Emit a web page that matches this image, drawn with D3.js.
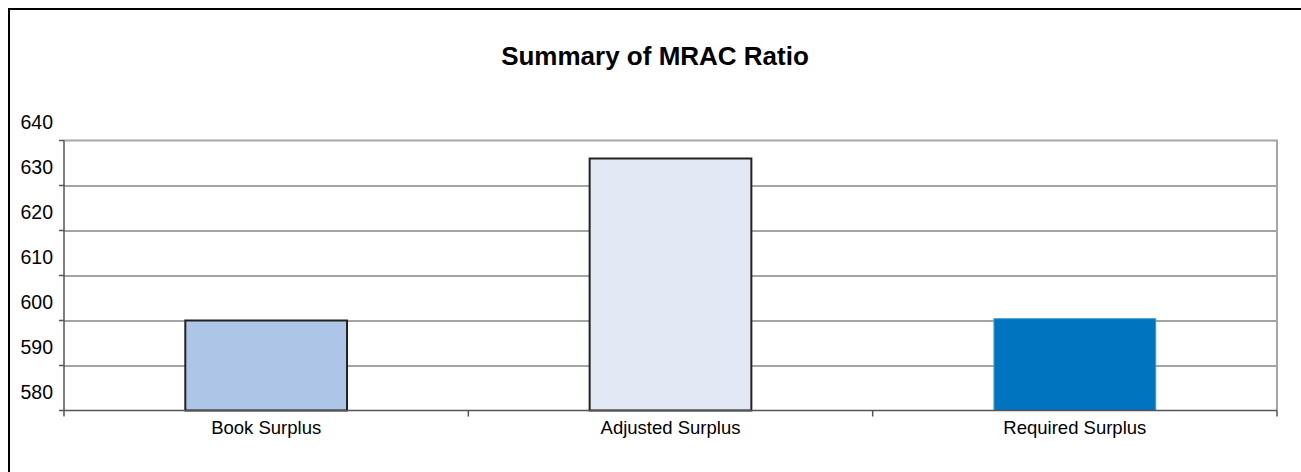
<!DOCTYPE html>
<html>
<head>
<meta charset="utf-8">
<script src="https://cdn.jsdelivr.net/npm/d3@7"></script>
<style>
  body { margin: 0; background: #fff; }
  text { font-family: "Liberation Sans", Arial, sans-serif; fill: #000; }
  .grid line { stroke: #868686; stroke-width: 1.5; }
  .grid path { display: none; }
</style>
</head>
<body>
<div id="chart"></div>
<script>
var categories = ["Book Surplus", "Adjusted Surplus", "Required Surplus"];
var values = [600, 636, 600.4];
var barColors = ["#adc5e6", "#e2e9f5", "#0074bf"];
var barStrokes = ["#222222", "#222222", "#3d9ad8"];
var yTicks = [580, 590, 600, 610, 620, 630, 640];
var title = "Summary of MRAC Ratio";

var W = 1301, H = 472;
var margin = {top: 140.5, right: 24, bottom: 61.5, left: 64},
    width = W - margin.left - margin.right,
    height = H - margin.top - margin.bottom;

var svg = d3.select("#chart").append("svg")
  .attr("width", W)
  .attr("height", H);

// outer frame (runs off the right/bottom edge like the original)
svg.append("rect")
  .attr("x", 9).attr("y", 9)
  .attr("width", W).attr("height", H)
  .attr("fill", "none")
  .attr("stroke", "#000")
  .attr("stroke-width", 2);

svg.append("text")
  .attr("x", 655)
  .attr("y", 65)
  .attr("text-anchor", "middle")
  .style("font-size", "26px")
  .style("font-weight", "bold")
  .text(title);

var g = svg.append("g")
  .attr("transform", "translate(" + margin.left + "," + margin.top + ")");

var x = d3.scaleBand().domain(categories).range([0, width]).paddingInner(0).paddingOuter(0);
var y = d3.scaleLinear().domain([580, 640]).range([height, 0]);

// gridlines
g.append("g")
  .attr("class", "grid")
  .call(d3.axisLeft(y).tickValues(yTicks.slice(1, -1)).tickSize(-width).tickFormat(""));

// plot area border (top + right)
g.append("path")
  .attr("d", "M0," + y(640) + "H" + width + "V" + height)
  .attr("fill", "none")
  .attr("stroke", "#a6a6a6")
  .attr("stroke-width", 2);

// bars
g.selectAll(".bar")
  .data(values)
  .enter().append("rect")
  .attr("class", "bar")
  .attr("x", function(d, i) { return x(categories[i]) + x.bandwidth() * 0.3; })
  .attr("width", x.bandwidth() * 0.4)
  .attr("y", function(d) { return y(d); })
  .attr("height", function(d) { return height - y(d); })
  .attr("fill", function(d, i) { return barColors[i]; })
  .attr("stroke", function(d, i) { return barStrokes[i]; })
  .attr("stroke-width", function(d, i) { return i < 2 ? 2 : 1; });

// y axis line + ticks
g.append("line")
  .attr("x1", 0).attr("x2", 0).attr("y1", 0).attr("y2", height)
  .attr("stroke", "#555").attr("stroke-width", 1.5);
g.selectAll(".ytick")
  .data(yTicks)
  .enter().append("line")
  .attr("class", "ytick")
  .attr("x1", -5).attr("x2", 0)
  .attr("y1", function(d) { return y(d); })
  .attr("y2", function(d) { return y(d); })
  .attr("stroke", "#555").attr("stroke-width", 1.5);

// y labels sit above their gridlines, as in the original
g.selectAll(".ylabel")
  .data(yTicks)
  .enter().append("text")
  .attr("class", "ylabel")
  .attr("x", -11)
  .attr("y", function(d) { return y(d) - 18; })
  .attr("dy", "0.35em")
  .attr("text-anchor", "end")
  .style("font-size", "19.5px")
  .text(function(d) { return d; });

// x axis line + boundary ticks
g.append("line")
  .attr("x1", 0).attr("x2", width).attr("y1", height).attr("y2", height)
  .attr("stroke", "#555").attr("stroke-width", 1.5);
var bounds = categories.map(function(c) { return x(c); }).concat([width]);
g.selectAll(".xtick")
  .data(bounds)
  .enter().append("line")
  .attr("class", "xtick")
  .attr("x1", function(d) { return d; })
  .attr("x2", function(d) { return d; })
  .attr("y1", height).attr("y2", height + 6)
  .attr("stroke", "#555").attr("stroke-width", 1.5);

g.selectAll(".xlabel")
  .data(categories)
  .enter().append("text")
  .attr("class", "xlabel")
  .attr("x", function(d) { return x(d) + x.bandwidth() / 2; })
  .attr("y", height + 23.5)
  .attr("text-anchor", "middle")
  .style("font-size", "18.5px")
  .text(function(d) { return d; });
</script>
</body>
</html>
